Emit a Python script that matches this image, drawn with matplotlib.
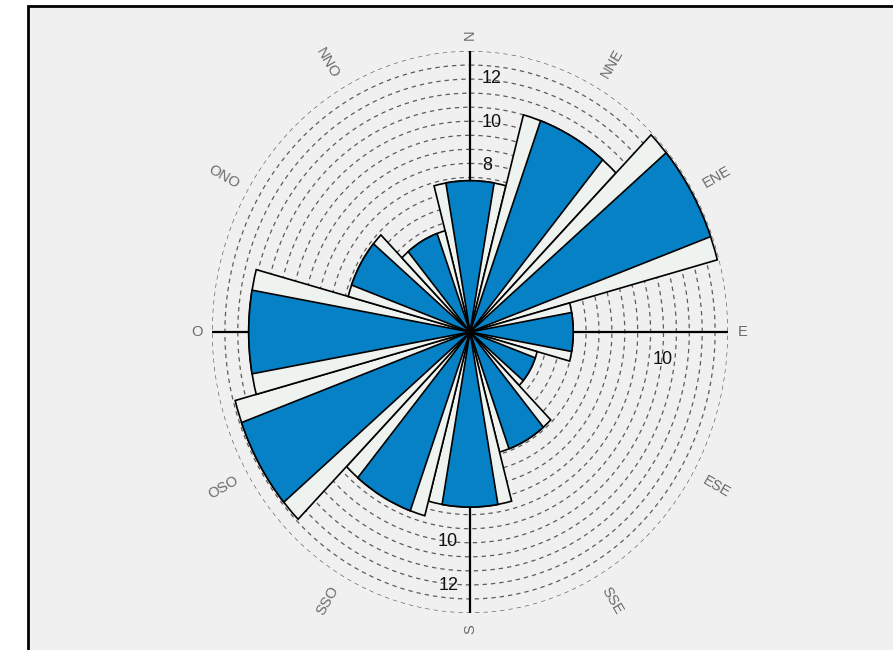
import numpy as np
import matplotlib
matplotlib.use("Agg")
import matplotlib.pyplot as plt
from matplotlib.patches import Rectangle

plt.rcParams["font.family"] = ["Liberation Sans", "DejaVu Sans"]

# Wind-rose data: 12 sectors of 30 degrees (Portuguese compass labels)
directions = ["N", "NNE", "ENE", "E", "ESE", "SSE", "S", "SSO", "OSO", "O", "ONO", "NNO"]
bearings = [0, 30, 60, 90, 120, 150, 180, 210, 240, 270, 300, 330]
frequencies = [7.0, 10.4, 12.9, 5.2, 3.5, 5.75, 8.1, 8.8, 12.25, 11.15, 6.35, 4.85]

# Radial scale
r_max = 13
ring_radii = np.linspace(0.65, 13, 20)
n_labels = [8, 10, 12]
s_labels = [10, 12]
e_labels = [10]

W, H = 893, 650
fig = plt.figure(figsize=(W / 100, H / 100), dpi=100)
fig.patch.set_facecolor("white")

# Gray panel with a black frame on the left and top
panel = Rectangle((28 / W, -0.05), 1.2, (H - 6) / H + 0.05,
                  transform=fig.transFigure, facecolor="#f0f0f0",
                  edgecolor="black", linewidth=2, zorder=-10)
fig.patches.append(panel)

cx, cy = 470, 332
rx, ry = 258, 281
ax = fig.add_axes([(cx - rx) / W, (H - cy - ry) / H, 2 * rx / W, 2 * ry / H],
                  projection="polar")
ax.set_zorder(5)
ax.set_aspect("auto")
ax.set_theta_zero_location("N")
ax.set_theta_direction(-1)
ax.set_ylim(0, r_max)
ax.axis("off")

# Dashed concentric grid
t = np.linspace(0, 2 * np.pi, 1441)
for r in ring_radii:
    ax.plot(t, np.full_like(t, r), color="#5c5c5c", lw=0.9,
            ls=(0, (3.5, 3.2)), zorder=1)

# Cardinal axes
for b in [0, 90, 180, 270]:
    ax.plot([np.deg2rad(b)] * 2, [0, r_max], color="black", lw=1.6, zorder=1.5)

theta = np.deg2rad(bearings)
ax.bar(theta, frequencies, width=np.deg2rad(30), bottom=0,
       color="#eef3ef", edgecolor="black", linewidth=1.2, zorder=2)
ax.bar(theta, frequencies, width=np.deg2rad(20), bottom=0,
       color="#0681c6", edgecolor="black", linewidth=1.2, zorder=3)

# Radial value labels
for v in n_labels:
    ax.annotate(str(v), xy=(0, v), xytext=(8.5, -4.5), textcoords="offset points",
                ha="left", va="center", fontsize=13, color="#111111", zorder=4)
for v in s_labels:
    ax.annotate(str(v), xy=(np.pi, v), xytext=(-8.5, 4.5), textcoords="offset points",
                ha="right", va="center", fontsize=13, color="#111111", zorder=4)
for v in e_labels:
    ax.annotate(str(v), xy=(np.pi / 2, v), xytext=(-4.5, -19.5), textcoords="offset points",
                ha="center", va="center", fontsize=13, color="#111111", zorder=4)

# Compass labels, oriented along the radius
for name, b in zip(directions, bearings):
    a = 90 - b
    while a > 90:
        a -= 180
    while a <= -90:
        a += 180
    r_lab = 13.75 if b % 90 == 0 else 14.35
    ax.text(np.deg2rad(b), r_lab, name, rotation=a, rotation_mode="anchor",
            ha="center", va="center", fontsize=10.5, color="#6a6a6a", zorder=4)

fig.savefig("out.png", dpi=100, facecolor=fig.get_facecolor())
